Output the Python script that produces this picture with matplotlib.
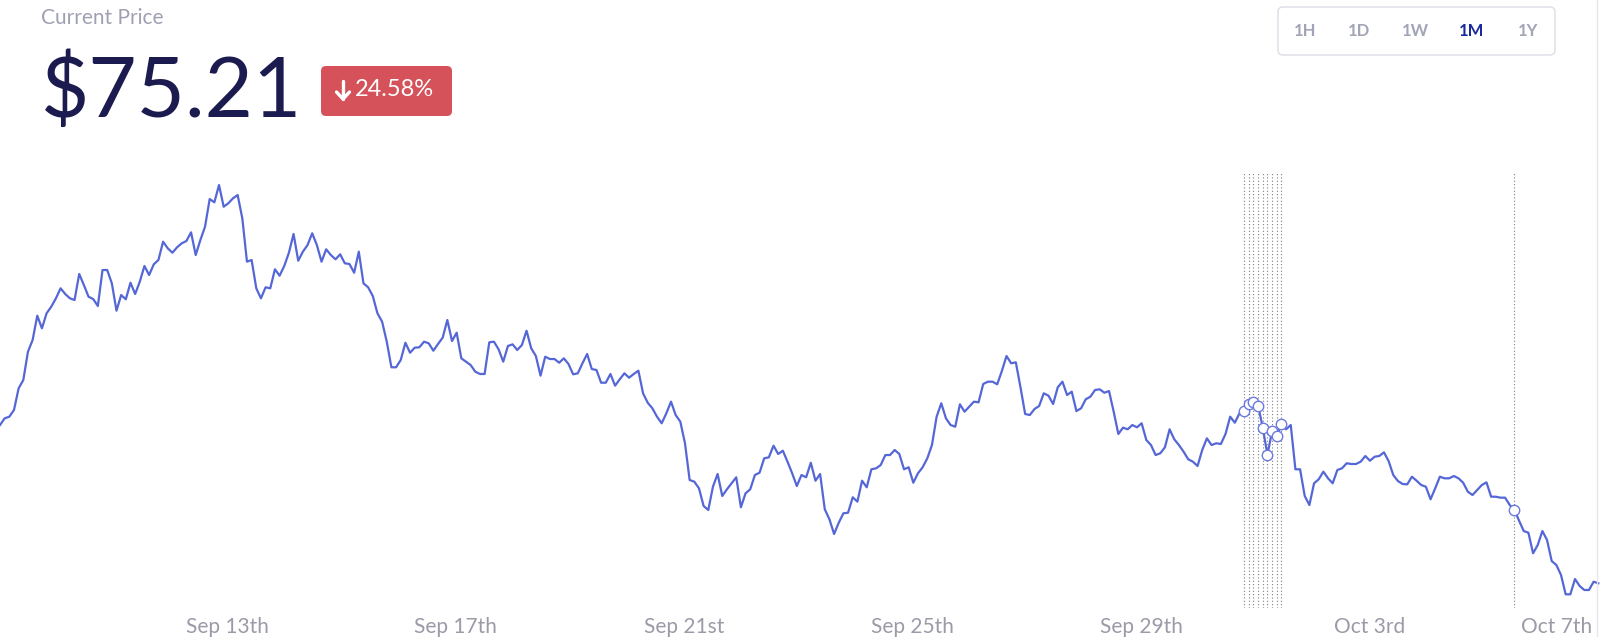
import matplotlib
matplotlib.use("Agg")
import matplotlib.pyplot as plt
import numpy as np
import pandas as pd
from matplotlib.patches import FancyBboxPatch
from matplotlib.lines import Line2D
from matplotlib.transforms import IdentityTransform, ScaledTranslation

# ---------------- data ----------------
START = "2019-09-09 00:38"
END = "2019-10-07 00:05"

PRICES = [
    99.74, 100.78, 101.03, 102.07, 105.43, 106.72, 111.11, 112.92, 116.69, 114.73,
    117.06, 118.08, 119.38, 120.93, 120.05, 119.38, 119.12, 123.15, 121.44, 119.63,
    119.27, 118.19, 123.77, 123.77, 121.71, 117.46, 119.89, 119.23, 121.80, 120.05,
    121.96, 124.39, 122.99, 124.65, 125.32, 128.16, 127.13, 126.45, 127.29, 127.91,
    128.26, 129.61, 126.09, 128.42, 130.48, 134.77, 134.26, 136.94, 133.58, 134.11,
    134.88, 135.39, 131.78, 125.06, 125.32, 120.93, 119.38,
    121.09, 120.93, 123.88, 122.89, 124.39, 126.45, 129.35, 125.21, 126.61, 127.64,
    129.46, 127.64, 125.06, 126.98, 126.09, 125.43, 126.20, 124.81, 124.70, 123.35,
    126.61, 121.71, 121.09, 119.74, 117.06, 115.76, 112.66, 108.69, 108.69, 109.82,
    112.50, 110.95, 111.73, 111.79, 112.66, 112.41, 111.26, 112.30, 113.28, 116.02,
    112.76, 114.05, 110.08, 109.56, 109.04, 108.01, 107.65, 107.65, 112.56, 112.66,
    111.48, 109.56, 111.99, 112.25, 111.37, 112.14, 114.36, 111.63, 110.44, 107.39,
    110.33, 109.97, 109.97, 109.40, 110.08, 109.20, 107.60, 107.76, 109.31, 110.75,
    108.42, 108.27, 106.30, 106.30, 107.65, 105.84, 106.83, 107.76, 107.08, 107.65,
    108.16, 104.66, 103.20, 102.33,
    101.03, 100.01, 101.56, 103.36, 101.29, 100.26, 96.91, 91.22, 90.96, 89.93,
    87.19, 86.57, 90.18, 92.15, 88.74, 89.78, 90.71, 91.64, 86.99, 89.16,
    89.78, 91.99, 92.35, 94.58, 94.74, 96.54, 95.25, 95.76, 94.06, 92.26,
    90.29, 91.99, 91.64, 93.90, 91.11, 92.15, 86.68, 85.13, 82.85, 84.60,
    86.06, 86.15, 88.54, 87.86, 91.11, 90.09, 92.88, 93.03, 93.54, 95.09,
    95.09, 95.87, 95.25, 92.88, 93.19, 90.80, 92.26, 93.19, 94.58, 96.64,
    101.03, 103.11, 100.78, 99.74, 99.48, 102.95, 101.81, 102.58, 103.36, 103.26,
    106.10, 106.46, 106.46, 106.05, 108.11, 110.44, 109.31, 109.46, 105.59, 101.45,
    101.29, 102.22, 102.69, 104.66, 104.29, 103.00, 105.59, 106.46, 104.39, 104.91,
    101.91, 102.33, 103.73, 104.13, 105.17, 105.28, 104.75, 105.01, 101.81, 98.35,
    99.33, 99.08, 99.74, 99.39, 100.01, 97.42, 96.64, 95.09, 95.36, 96.29,
    99.08, 97.53, 96.64, 95.61,
    94.43, 94.06, 93.39, 95.87, 97.68, 96.64, 96.91, 96.80, 98.35, 101.03,
    100.10, 101.56, 101.96, 103.00, 103.36, 102.74, 99.33, 95.09, 98.86, 98.09,
    99.85, 99.08, 99.74, 92.88, 92.88, 88.74, 87.34, 90.71, 91.33, 92.51,
    91.48, 90.71, 92.77, 93.03, 93.81, 93.70, 93.70, 94.06, 94.94, 94.21,
    94.83, 94.94, 95.51, 94.16, 91.99, 91.06, 90.60, 90.55, 91.73, 91.11,
    90.44, 90.18, 88.23, 89.93, 91.73, 91.48, 91.48, 91.84, 91.48, 90.80,
    89.41, 88.89, 89.67, 90.44, 90.86, 88.63, 88.63, 88.48, 88.48, 87.34,
    86.57, 84.91, 83.31, 83.05, 79.86, 81.14, 83.31, 81.92, 78.66, 78.04,
    76.49, 73.50, 73.50, 75.87, 74.79, 74.17, 74.17, 75.46, 75.21,
]

HIGHLIGHT_IDX = [267, 268, 269, 270, 271, 272, 273, 274, 275, 325]

TICK_DATES = ["2019-09-13", "2019-09-17", "2019-09-21", "2019-09-25",
              "2019-09-29", "2019-10-03", "2019-10-07"]
TICK_LABELS = ["Sep 13th", "Sep 17th", "Sep 21st", "Sep 25th",
               "Sep 29th", "Oct 3rd", "Oct 7th"]

TITLE = "Current Price"
CURRENT_PRICE = 75.21
CHANGE_PCT = -24.58
RANGES = ["1H", "1D", "1W", "1M", "1Y"]
ACTIVE_RANGE = "1M"

# ---------------- style ----------------
FONT = ["Lato", "DejaVu Sans"]
plt.rcParams["font.family"] = FONT

W, H = 1600, 637
fig = plt.figure(figsize=(W / 100, H / 100), dpi=100)
fig.patch.set_facecolor("white")

times = pd.date_range(START, END, periods=len(PRICES))
prices = np.array(PRICES)

ax = fig.add_axes([0, 29 / H, 1, 436 / H])
ax.set_facecolor("none")
ax.plot(times, prices, color="#5567d6", lw=1.6, solid_joinstyle="round", zorder=3)

hl_times = times[HIGHLIGHT_IDX]
for t in hl_times:
    ax.axvline(t, color="#7c7c84", lw=0.8, ls=(0, (1, 2)), zorder=1)
ax.plot(hl_times, prices[HIGHLIGHT_IDX], "o", mfc="white", mec="#6b7ade",
        ms=7.5, mew=1.0, zorder=4)

span = times[-1] - times[0]
ax.set_xlim(times[0], times[0] + span * (1600 / 1598.3))
ax.set_ylim(71.38, 138.96)

for s in ax.spines.values():
    s.set_visible(False)
ax.set_yticks([])
ax.set_xticks(pd.to_datetime(TICK_DATES))
ax.set_xticklabels(TICK_LABELS)
ax.tick_params(axis="x", length=0, pad=6.5, labelsize=15, labelcolor="#9b9ba8")
last = ax.get_xticklabels()[-1]
last.set_horizontalalignment("right")
last.set_transform(last.get_transform() + ScaledTranslation(-6 / 100, 0, fig.dpi_scale_trans))

# ---------------- header ----------------
def fx(px):
    return px / W

def fy(py):
    return 1 - py / H

fig.text(fx(41), fy(18), TITLE, ha="left", va="center", fontsize=15,
         color="#a0a0b4", fontweight="normal")
fig.text(fx(41), fy(117), f"${CURRENT_PRICE:.2f}", ha="left", va="baseline",
         fontsize=60, color="#1c1b4f", fontweight="normal")

badge = FancyBboxPatch((321, H - 116), 131, 50,
                       boxstyle="round,pad=0,rounding_size=5",
                       transform=IdentityTransform(), fc="#d5525a", ec="none")
fig.add_artist(badge)
# down arrow glyph drawn in pixel space
ax_c = 343
fig.add_artist(Line2D([ax_c, ax_c], [H - 81, H - 99], transform=IdentityTransform(),
                      color="white", lw=2.4, solid_capstyle="round"))
fig.add_artist(Line2D([ax_c - 6.5, ax_c, ax_c + 6.5], [H - 92, H - 99, H - 92],
                      transform=IdentityTransform(), color="white", lw=2.4,
                      solid_capstyle="round", solid_joinstyle="round"))
fig.text(fx(355), fy(90), f"{abs(CHANGE_PCT):.2f}%", ha="left", va="center",
         fontsize=17, color="white")

box = FancyBboxPatch((1278, H - 55), 277, 48,
                     boxstyle="round,pad=0,rounding_size=5",
                     transform=IdentityTransform(), fc="white", ec="#dcdde5", lw=1)
fig.add_artist(box)
btn_x = [1305, 1359, 1415, 1472, 1528]
for label, bx in zip(RANGES, btn_x):
    active = label == ACTIVE_RANGE
    fig.text(fx(bx), fy(31), label, ha="center", va="center", fontsize=12,
             fontweight="bold", color="#1a2a9c" if active else "#a2a4b8")

fig.add_artist(Line2D([1597, 1597], [0, H], transform=IdentityTransform(),
                      color="#e6e6ec", lw=1))

fig.savefig("out.png", dpi=100, facecolor="white")
